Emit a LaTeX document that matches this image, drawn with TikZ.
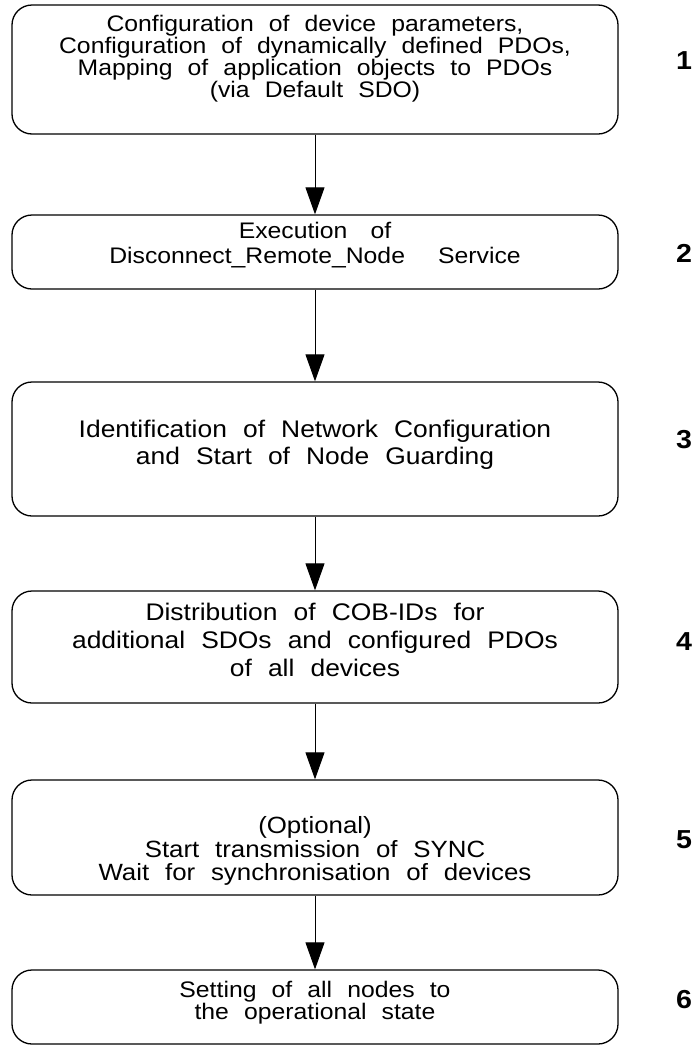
\documentclass[tikz,border=0pt]{standalone}
\usepackage{fontspec}
\setmainfont{Liberation Sans}[WordSpace=2.2, FakeStretch=1.1]
\usetikzlibrary{arrows.meta}
\tikzset{
  stepbox/.style={draw=black, line width=1.3pt, rounded corners=20pt, minimum width=606pt, inner sep=0pt},
  steptext/.style={align=center, inner sep=0pt},
  stepnum/.style={font=\fontsize{26}{28}\selectfont\bfseries, inner sep=0pt},
  flow/.style={line width=1pt, -{Triangle[length=27pt,width=19pt]}}
}
\newcommand{\skipfont}[2]{\fontsize{#1}{#2}\selectfont}
\begin{document}
\begin{tikzpicture}[x=1pt,y=-1pt]
\useasboundingbox (0,0) rectangle (696,1047);
% boxes
\node[stepbox, minimum height=129pt] (b1) at (315,69.5) {};
\node[stepbox, minimum height=74pt]  (b2) at (315,252) {};
\node[stepbox, minimum height=134pt] (b3) at (315,449) {};
\node[stepbox, minimum height=112pt] (b4) at (315,647) {};
\node[stepbox, minimum height=115pt] (b5) at (315,837.5) {};
\node[stepbox, minimum height=74pt]  (b6) at (315,1007) {};
% texts
\node[steptext, font=\skipfont{22.5}{20.7}] (t1) at (315,59) {Configuration of device parameters,\\Configuration of dynamically defined PDOs,\\Mapping of application objects to PDOs\\(via Default SDO)};
\node[steptext, font=\skipfont{22.5}{25}] (t2) at (315,245) {Execution\hspace{8pt} of\\Disconnect\_Remote\_Node\hspace{18pt} Service};
\node[steptext, font=\skipfont{24}{27}] (t3) at (315,444.5) {Identification of Network Configuration\\and Start of Node Guarding};
\node[steptext, font=\skipfont{24}{28}] (t4) at (315,639.5) {Distribution of COB-IDs for\\additional SDOs and configured PDOs\\of all devices};
\node[steptext, font=\skipfont{23.5}{23.5}] (t5) at (315,851) {(Optional)\\Start transmission of SYNC\\Wait for synchronisation of devices};
\node[steptext, font=\skipfont{22.5}{22}] (t6) at (315,1003) {Setting of all nodes to\\the operational state};
% numbers
\node[stepnum] (n1) at (684,61) {1};
\node[stepnum] (n2) at (684,253) {2};
\node[stepnum] (n3) at (684,440) {3};
\node[stepnum] (n4) at (684,642) {4};
\node[stepnum] (n5) at (684,840) {5};
\node[stepnum] (n6) at (684,1000) {6};
% arrows
\draw[flow] (b1) -- (b2);
\draw[flow] (b2) -- (b3);
\draw[flow] (b3) -- (b4);
\draw[flow] (b4) -- (b5);
\draw[flow] (b5) -- (b6);
\end{tikzpicture}
\end{document}
